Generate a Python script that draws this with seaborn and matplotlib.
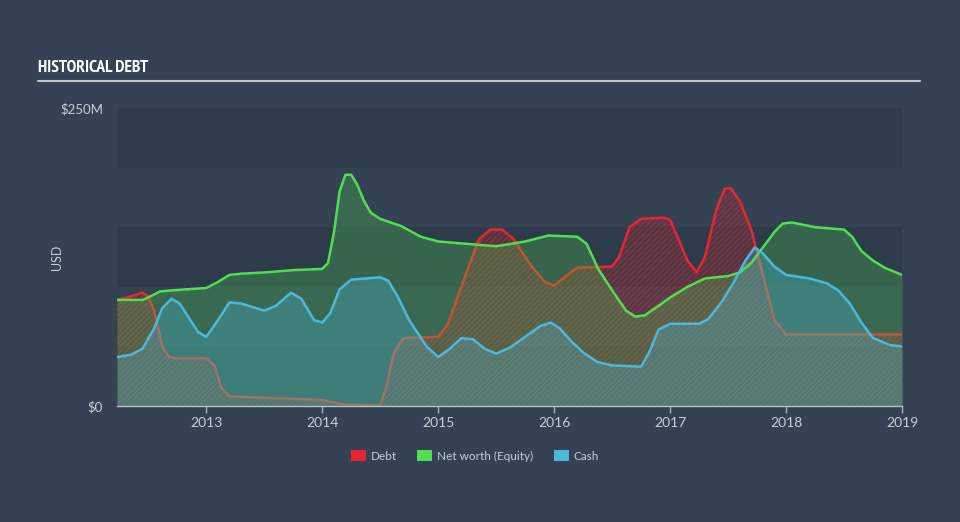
import matplotlib
matplotlib.use("Agg")
import matplotlib.pyplot as plt
import seaborn as sns
import pandas as pd
from matplotlib.patches import Patch
from matplotlib.lines import Line2D
from matplotlib import font_manager

# ---- data (USD millions) ----
debt_t = [2012.23, 2012.35, 2012.45, 2012.5, 2012.55, 2012.62, 2012.68, 2012.73, 2013.0, 2013.07,
          2013.13, 2013.2, 2013.5, 2014.0, 2014.1, 2014.2, 2014.5, 2014.55, 2014.62, 2014.7,
          2015.0, 2015.08, 2015.2, 2015.35, 2015.45, 2015.55, 2015.65, 2015.8, 2015.92,
          2016.0, 2016.1, 2016.2, 2016.5, 2016.56, 2016.65, 2016.75, 2016.95, 2017.0, 2017.05,
          2017.15, 2017.23, 2017.3, 2017.4, 2017.47, 2017.52, 2017.6, 2017.7, 2017.8, 2017.9,
          2018.0, 2019.0]
debt_v = [89, 92, 95, 92, 80, 50, 41, 40, 40, 34,
          15, 8, 7, 5, 3, 1, 0.5, 15, 45, 57,
          58, 68, 100, 140, 148, 148, 140, 118, 104,
          101, 109, 116, 117, 125, 150, 157, 158, 156, 145,
          122, 112, 125, 165, 182, 183, 172, 148, 110, 72,
          60, 60]

cash_t = [2012.23, 2012.35, 2012.45, 2012.55, 2012.62, 2012.7, 2012.77, 2012.85, 2012.93, 2013.0,
          2013.1, 2013.2, 2013.3, 2013.5, 2013.6, 2013.73, 2013.82, 2013.93, 2014.0, 2014.07,
          2014.15, 2014.25, 2014.5, 2014.57, 2014.65, 2014.75, 2014.9, 2015.0, 2015.1, 2015.2,
          2015.3, 2015.4, 2015.5, 2015.62, 2015.75, 2015.88, 2015.97, 2016.05, 2016.15, 2016.25,
          2016.37, 2016.5, 2016.75, 2016.82, 2016.9, 2017.0, 2017.25, 2017.33, 2017.45, 2017.55,
          2017.65, 2017.73, 2017.8, 2017.9, 2018.0, 2018.2, 2018.35, 2018.45, 2018.55, 2018.65,
          2018.75, 2018.9, 2019.0]
cash_v = [41, 43, 48, 65, 82, 90, 86, 74, 62, 58,
          72, 87, 86, 80, 84, 95, 90, 72, 70, 78,
          98, 106, 108, 105, 92, 72, 50, 41, 48, 57,
          56, 48, 44, 49, 58, 67, 70, 65, 54, 45,
          37, 34, 33, 45, 64, 69, 69, 73, 88, 104,
          122, 133, 128, 117, 110, 107, 103, 97, 86, 70,
          57, 51, 50]

equity_t = [2012.23, 2012.45, 2012.52, 2012.6, 2012.7, 2013.0, 2013.1, 2013.2, 2013.3, 2013.5,
            2013.75, 2014.0, 2014.05, 2014.1, 2014.15, 2014.2, 2014.25, 2014.3, 2014.36, 2014.42,
            2014.5, 2014.68, 2014.85, 2015.0, 2015.5, 2015.75, 2015.95, 2016.2, 2016.28, 2016.38,
            2016.5, 2016.62, 2016.7, 2016.78, 2016.9, 2017.0, 2017.15, 2017.3, 2017.5, 2017.6,
            2017.7, 2017.8, 2017.9, 2017.97, 2018.05, 2018.25, 2018.5, 2018.57, 2018.65, 2018.75,
            2018.85, 2019.0]
equity_v = [89, 89, 92, 96, 97, 99, 104, 110, 111, 112,
            114, 115, 120, 145, 180, 194, 194, 186, 172, 162,
            157, 151, 142, 138, 134, 138, 143, 142, 136, 115,
            97, 80, 75, 76, 84, 91, 100, 107, 109, 112,
            120, 133, 146, 153, 154, 150, 148, 142, 130, 122,
            116, 110]

year_ticks = [2013, 2014, 2015, 2016, 2017, 2018, 2019]
y_ticks = [0, 250]
y_tick_labels = ["$0", "$250M"]
legend_labels = ["Debt", "Net worth (Equity)", "Cash"]

df_debt = pd.DataFrame({"t": debt_t, "v": debt_v})
df_cash = pd.DataFrame({"t": cash_t, "v": cash_v})
df_eq = pd.DataFrame({"t": equity_t, "v": equity_v})

# ---- style ----
BG = "#344253"
BAND_DARK = "#2e3b4b"
RED = "#e8262f"
GREEN = "#4fe04f"
BLUE = "#4cb8dc"
TXT = "#c9ced4"

sns.set_style("dark")
plt.rcParams["hatch.linewidth"] = 0.6
plt.rcParams["font.family"] = ["Lato", "DejaVu Sans"]

# pick a condensed bold font for the title if available
cands = []
for f in font_manager.fontManager.ttflist:
    nm = f.name.lower()
    st = str(f.stretch).lower()
    wt = f.weight
    is_cond = ("narrow" in nm or "condensed" in nm or st in ("condensed", "semi-condensed",
               "extra-condensed", "ultra-condensed") or (isinstance(f.stretch, int) and f.stretch < 500))
    is_bold = (wt in ("bold", "heavy", "black", "extra bold", "semibold", "demibold")
               or (isinstance(wt, int) and wt >= 600))
    if is_cond and is_bold:
        cands.append(f)
if cands:
    cands.sort(key=lambda f: 0 if "narrow" in f.name.lower() else 1)
    title_fp = font_manager.FontProperties(fname=cands[0].fname, size=12.5)
else:
    title_fp = font_manager.FontProperties(family="DejaVu Sans", weight="bold",
                                           stretch="condensed", size=12)

fig = plt.figure(figsize=(9.6, 5.22), dpi=100, facecolor=BG)
ax = fig.add_axes([117/960, (522-406)/522, (902-117)/960, (406-108)/522])
ax.set_facecolor(BG)

for lo, hi in [(0, 50), (100, 150), (200, 250)]:
    ax.axhspan(lo, hi, color=BAND_DARK, lw=0, zorder=0)

ax.fill_between(df_debt["t"], df_debt["v"], 0, facecolor=RED, alpha=0.18, lw=0, zorder=1)
ax.fill_between(df_debt["t"], df_debt["v"], 0, facecolor="none", edgecolor=RED, alpha=0.55,
                hatch="//////", lw=0, zorder=1)
sns.lineplot(data=df_debt, x="t", y="v", ax=ax, color=RED, lw=1.8, zorder=2, legend=False)

ax.fill_between(df_eq["t"], df_eq["v"], 0, color=GREEN, alpha=0.25, lw=0, zorder=3)
ax.fill_between(df_cash["t"], df_cash["v"], 0, color=BLUE, alpha=0.3, lw=0, zorder=4)

sns.lineplot(data=df_eq, x="t", y="v", ax=ax, color=GREEN, lw=1.8, zorder=5, legend=False)
sns.lineplot(data=df_cash, x="t", y="v", ax=ax, color=BLUE, lw=1.8, zorder=6, legend=False)
for ln in ax.get_lines():
    ln.set_solid_joinstyle("round")

ax.set_xlim(2012.23, 2019.0)
ax.set_ylim(0, 250)
ax.set_xticks(year_ticks)
ax.set_xticklabels([str(y) for y in year_ticks])
ax.set_yticks(y_ticks)
ax.set_yticklabels(y_tick_labels)
ax.tick_params(axis="x", colors="#aab4be", labelcolor=TXT, labelsize=10, length=5, width=1,
               direction="out", pad=3, bottom=True)
ax.tick_params(axis="y", labelcolor=TXT, labelsize=9.5, length=0, pad=10)
ax.set_xlabel("")
ax.set_ylabel("USD", color=TXT, fontsize=9)
ax.yaxis.set_label_coords((63-117)/785, 0.5)
ax.grid(False)
for s in ["top", "right", "left"]:
    ax.spines[s].set_visible(False)
ax.spines["bottom"].set_visible(True)
ax.spines["bottom"].set_color("#b8c0c8")
ax.spines["bottom"].set_linewidth(1)
ax.spines["bottom"].set_zorder(10)

fig.text(38/960, 1-68/522, "HISTORICAL DEBT", color="white", fontproperties=title_fp,
         va="center", ha="left")
fig.add_artist(Line2D([38/960, 920/960], [1-81/522, 1-81/522], transform=fig.transFigure,
                      color="#c0c6cc", lw=1.5))

handles = [Patch(facecolor=c, edgecolor="none") for c in [RED, GREEN, BLUE]]
leg = fig.legend(handles, legend_labels, loc="center", bbox_to_anchor=(475/960, 1-456/522),
                 ncol=3, frameon=False, fontsize=8.5, handlelength=1.27, handleheight=0.95,
                 columnspacing=1.7, handletextpad=0.45)
for t in leg.get_texts():
    t.set_color(TXT)

fig.savefig("out.png", dpi=100, facecolor=BG)
